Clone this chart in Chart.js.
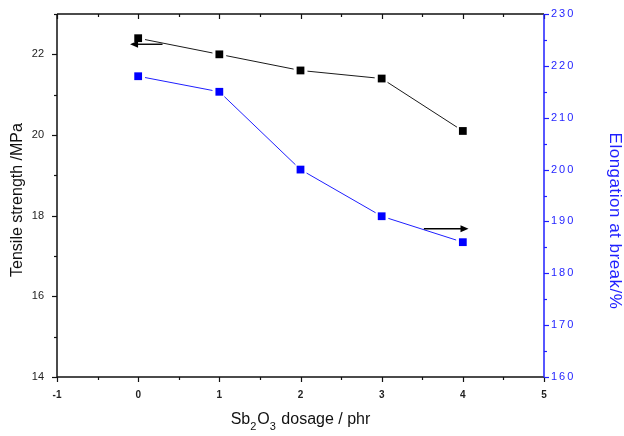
<!DOCTYPE html>
<html>
<head>
<meta charset="utf-8">
<script src="https://cdn.jsdelivr.net/npm/chart.js@4.4.1/dist/chart.umd.min.js"></script>
<style>
  html, body { margin: 0; padding: 0; background: #fff; }
  #wrap { width: 624px; height: 436px; position: relative; }
</style>
</head>
<body>
<div id="wrap"><canvas id="chart"></canvas></div>
<script>
// ------------------------------------------------------------
// DATA
// ------------------------------------------------------------
const doseValues = [0, 1, 2, 3, 4];
const tensileValues = [22.4, 22.0, 21.6, 21.4, 20.1];
const elongationValues = [218, 215, 200, 191, 186];

const xTickValues = [-1, 0, 1, 2, 3, 4, 5];
const leftTickValues = [14, 16, 18, 20, 22];
const rightTickValues = [160, 170, 180, 190, 200, 210, 220, 230];

// arrows: [from x, to x, y] in data units of the axis they point at
const tensileArrow = [0.3, -0.1, 22.25];
const elongationArrow = [3.52, 4.07, 188.6];

const BLUE = "#1f1fff";
const FONT = "'Liberation Sans', Arial, sans-serif";

// ------------------------------------------------------------
// PLUGINS
// ------------------------------------------------------------

// connecting lines with small gaps around the markers (Origin style)
const gapLines = {
  id: "gapLines",
  beforeDatasetsDraw(chart) {
    const ctx = chart.ctx;
    chart.data.datasets.forEach((ds, i) => {
      const pts = chart.getDatasetMeta(i).data;
      ctx.save();
      ctx.strokeStyle = ds.lineColor;
      ctx.lineWidth = 1;
      for (let k = 0; k < pts.length - 1; k++) {
        const p = pts[k], q = pts[k + 1];
        const dx = q.x - p.x, dy = q.y - p.y;
        const len = Math.hypot(dx, dy);
        const gap = 7;
        if (len <= gap * 2) continue;
        const ux = dx / len, uy = dy / len;
        ctx.beginPath();
        ctx.moveTo(p.x + ux * gap, p.y + uy * gap);
        ctx.lineTo(q.x - ux * gap, q.y - uy * gap);
        ctx.stroke();
      }
      ctx.restore();
    });
  }
};

function drawArrow(ctx, x1, x2, y) {
  const dir = Math.sign(x2 - x1);
  ctx.save();
  ctx.strokeStyle = "#000";
  ctx.fillStyle = "#000";
  ctx.lineWidth = 1.4;
  ctx.beginPath();
  ctx.moveTo(x1, y);
  ctx.lineTo(x2 - dir * 5, y);
  ctx.stroke();
  ctx.beginPath();
  ctx.moveTo(x2, y);
  ctx.lineTo(x2 - dir * 8, y - 3.5);
  ctx.lineTo(x2 - dir * 8, y + 3.5);
  ctx.closePath();
  ctx.fill();
  ctx.restore();
}

const arrows = {
  id: "arrows",
  afterDatasetsDraw(chart) {
    const { x, y, y2 } = chart.scales;
    const ctx = chart.ctx;
    drawArrow(ctx, x.getPixelForValue(tensileArrow[0]),
      x.getPixelForValue(tensileArrow[1]), y.getPixelForValue(tensileArrow[2]));
    drawArrow(ctx, x.getPixelForValue(elongationArrow[0]),
      x.getPixelForValue(elongationArrow[1]), y2.getPixelForValue(elongationArrow[2]));
  }
};

// axis frame + major/minor ticks
const frame = {
  id: "frame",
  afterDraw(chart) {
    const { x, y, y2 } = chart.scales;
    const a = chart.chartArea;
    const ctx = chart.ctx;
    ctx.save();
    ctx.lineWidth = 1.5;
    ctx.strokeStyle = "#111";

    // left, bottom, top lines
    ctx.beginPath();
    ctx.moveTo(a.left, a.top);
    ctx.lineTo(a.left, a.bottom);
    ctx.lineTo(a.right, a.bottom);
    ctx.moveTo(a.left, a.top);
    ctx.lineTo(a.right, a.top);
    ctx.stroke();

    ctx.lineWidth = 1.2;
    // left ticks (outward)
    for (let v = y.min; v <= y.max; v += 1) {
      const py = Math.round(y.getPixelForValue(v)) + 0.5;
      const len = v % 2 === 0 ? 5 : 3;
      ctx.beginPath();
      ctx.moveTo(a.left, py);
      ctx.lineTo(a.left - len, py);
      ctx.stroke();
    }
    // bottom ticks (outward) and top ticks (inward)
    for (let v = x.min; v <= x.max + 1e-9; v += 0.5) {
      const px = Math.round(x.getPixelForValue(v)) + 0.5;
      const len = Number.isInteger(v) ? 5 : 3;
      ctx.beginPath();
      ctx.moveTo(px, a.bottom);
      ctx.lineTo(px, a.bottom + len);
      ctx.moveTo(px, a.top);
      ctx.lineTo(px, a.top + len);
      ctx.stroke();
    }

    // right axis in blue
    ctx.strokeStyle = BLUE;
    ctx.lineWidth = 1.5;
    ctx.beginPath();
    ctx.moveTo(a.right, a.top);
    ctx.lineTo(a.right, a.bottom);
    ctx.stroke();
    ctx.lineWidth = 1.2;
    for (let v = y2.min; v <= y2.max; v += 5) {
      const py = Math.round(y2.getPixelForValue(v)) + 0.5;
      const len = v % 10 === 0 ? 5 : 3;
      ctx.beginPath();
      ctx.moveTo(a.right, py);
      ctx.lineTo(a.right + len, py);
      ctx.stroke();
    }
    ctx.restore();
  }
};

// axis titles (x title needs subscripts)
const titles = {
  id: "titles",
  afterDraw(chart) {
    const a = chart.chartArea;
    const ctx = chart.ctx;
    const midY = (a.top + a.bottom) / 2;
    ctx.save();
    ctx.textBaseline = "middle";
    ctx.textAlign = "center";

    // left title
    ctx.font = "16px " + FONT;
    ctx.fillStyle = "#111";
    ctx.save();
    ctx.translate(18, midY + 4.5);
    ctx.rotate(-Math.PI / 2);
    ctx.fillText("Tensile strength /MPa", 0, 0);
    ctx.restore();

    // right title
    ctx.fillStyle = BLUE;
    ctx.font = "17px " + FONT;
    ctx.save();
    ctx.letterSpacing = "0.5px";
    ctx.translate(615, midY + 25.5);
    ctx.rotate(Math.PI / 2);
    ctx.fillText("Elongation at break/%", 0, 0);
    ctx.restore();

    // x title with subscripts
    const parts = [
      ["Sb", false], ["2", true], ["O", false], ["3", true], [" dosage / phr", false]
    ];
    const big = "16px " + FONT, small = "11px " + FONT;
    let total = 0;
    parts.forEach(([t, sub]) => {
      ctx.font = sub ? small : big;
      total += ctx.measureText(t).width + (sub ? 1 : 0);
    });
    let cx = (a.left + a.right) / 2 - total / 2;
    const baseY = 424;
    ctx.textAlign = "left";
    ctx.textBaseline = "alphabetic";
    ctx.fillStyle = "#111";
    parts.forEach(([t, sub]) => {
      ctx.font = sub ? small : big;
      ctx.fillText(t, cx, sub ? baseY + 6 : baseY);
      cx += ctx.measureText(t).width + (sub ? 1 : 0);
    });
    ctx.restore();
  }
};

// wider letter spacing on the right axis labels, like the original
const spacedLabels = {
  id: "spacedLabels",
  afterLayout(chart) {
    const s = chart.scales.y2;
    if (s._spaced) return;
    const orig = s.drawLabels.bind(s);
    s.drawLabels = area => {
      chart.ctx.save();
      chart.ctx.letterSpacing = "2px";
      orig(area);
      chart.ctx.restore();
    };
    s._spaced = true;
  }
};

// vertical scales: fixed width, and no extra top/bottom padding from labels
function fixVertical(width) {
  return s => {
    s.width = width;
    s.paddingTop = 0;
    s.paddingBottom = 0;
  };
}

// ------------------------------------------------------------
// CHART
// ------------------------------------------------------------
const tensilePoints = doseValues.map((d, i) => ({ x: d, y: tensileValues[i] }));
const elongationPoints = doseValues.map((d, i) => ({ x: d, y: elongationValues[i] }));

new Chart(document.getElementById("chart"), {
  type: "line",
  data: {
    datasets: [
      {
        label: "Tensile strength",
        data: tensilePoints,
        yAxisID: "y",
        showLine: false,
        lineColor: "#1a1a1a",
        pointStyle: "rect",
        pointRadius: 5.5,
        pointBorderWidth: 0,
        pointBackgroundColor: "#000",
        pointBorderColor: "#000"
      },
      {
        label: "Elongation at break",
        data: elongationPoints,
        yAxisID: "y2",
        showLine: false,
        lineColor: BLUE,
        pointStyle: "rect",
        pointRadius: 5.5,
        pointBorderWidth: 0,
        pointBackgroundColor: "#0000ff",
        pointBorderColor: "#0000ff"
      }
    ]
  },
  options: {
    responsive: true,
    maintainAspectRatio: false,
    animation: false,
    layout: { padding: { top: 14, left: 0, right: 0, bottom: 0 } },
    plugins: {
      legend: { display: false },
      tooltip: { enabled: false }
    },
    scales: {
      x: {
        type: "linear",
        min: -1,
        max: 5,
        grid: { display: false, tickLength: 0 },
        border: { display: false },
        afterBuildTicks: s => { s.ticks = xTickValues.map(v => ({ value: v })); },
        afterFit: s => { s.height = 59; s.paddingLeft = 0; s.paddingRight = 0; },
        ticks: {
          autoSkip: false,
          maxRotation: 0,
          padding: 12,
          color: "#222",
          font: { family: FONT, size: 10, weight: "bold" }
        }
      },
      y: {
        position: "left",
        min: 14,
        max: 23,
        grid: { display: false, tickLength: 0 },
        border: { display: false },
        afterBuildTicks: s => { s.ticks = leftTickValues.map(v => ({ value: v })); },
        afterFit: fixVertical(57),
        ticks: {
          padding: 13,
          color: "#222",
          font: { family: FONT, size: 11 }
        }
      },
      y2: {
        position: "right",
        min: 160,
        max: 230,
        grid: { display: false, tickLength: 0 },
        border: { display: false },
        afterBuildTicks: s => { s.ticks = rightTickValues.map(v => ({ value: v })); },
        afterFit: fixVertical(80),
        ticks: {
          padding: 7,
          color: BLUE,
          font: { family: FONT, size: 11 }
        }
      }
    }
  },
  plugins: [gapLines, arrows, frame, titles, spacedLabels]
});
</script>
</body>
</html>
